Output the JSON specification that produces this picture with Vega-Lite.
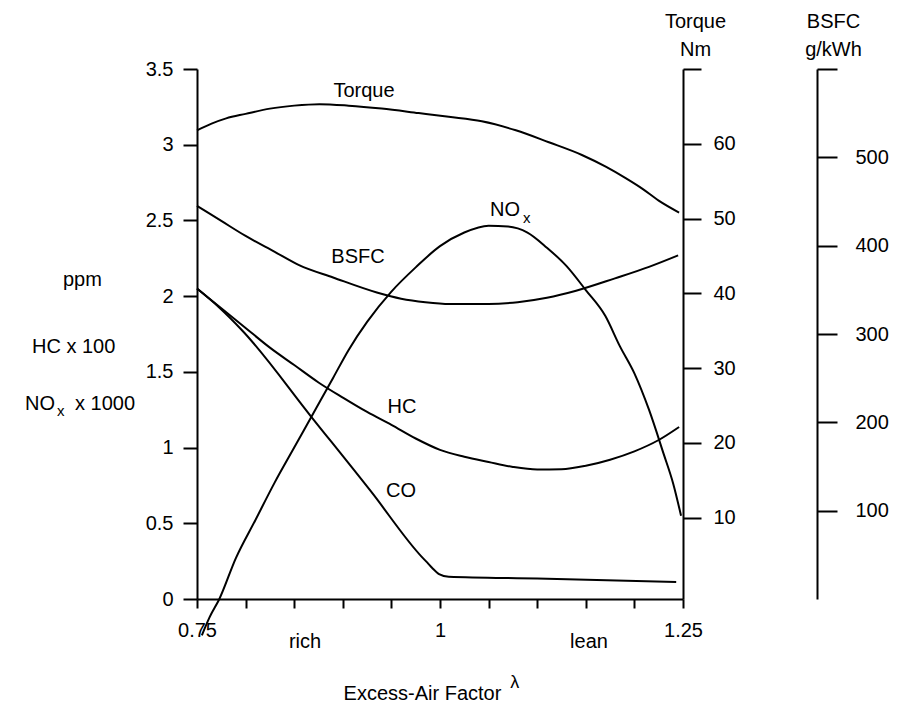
{
  "$schema": "https://vega.github.io/schema/vega-lite/v6.json",
  "width": 486,
  "height": 530,
  "autosize": {"type": "none"},
  "padding": {"left": 197, "top": 69, "right": 214, "bottom": 105},
  "background": "white",
  "config": {
    "font": "Liberation Sans",
    "view": {"stroke": null},
    "axis": {
      "grid": false,
      "domainColor": "black",
      "domainWidth": 2,
      "tickColor": "black",
      "tickWidth": 2,
      "labelColor": "black",
      "labelFont": "Liberation Sans",
      "labelFontSize": 20,
      "titleFont": "Liberation Sans",
      "titleFontSize": 20,
      "titleFontWeight": "normal",
      "titleColor": "black",
      "labelOverlap": false,
      "labelFlush": false
    },
    "text": {"font": "Liberation Sans", "color": "black"}
  },
  "datasets": {
    "emissions": [
      {"series": "HC", "lambda": 0.75, "value": 2.05},
      {"series": "HC", "lambda": 0.775, "value": 1.92},
      {"series": "HC", "lambda": 0.8, "value": 1.79},
      {"series": "HC", "lambda": 0.825, "value": 1.66},
      {"series": "HC", "lambda": 0.85, "value": 1.545},
      {"series": "HC", "lambda": 0.875, "value": 1.43},
      {"series": "HC", "lambda": 0.9, "value": 1.33},
      {"series": "HC", "lambda": 0.925, "value": 1.235},
      {"series": "HC", "lambda": 0.95, "value": 1.15},
      {"series": "HC", "lambda": 0.975, "value": 1.06},
      {"series": "HC", "lambda": 1.0, "value": 0.985},
      {"series": "HC", "lambda": 1.025, "value": 0.94},
      {"series": "HC", "lambda": 1.05, "value": 0.905},
      {"series": "HC", "lambda": 1.075, "value": 0.872},
      {"series": "HC", "lambda": 1.1, "value": 0.855},
      {"series": "HC", "lambda": 1.125, "value": 0.857},
      {"series": "HC", "lambda": 1.15, "value": 0.88},
      {"series": "HC", "lambda": 1.175, "value": 0.92},
      {"series": "HC", "lambda": 1.2, "value": 0.975},
      {"series": "HC", "lambda": 1.225, "value": 1.05},
      {"series": "HC", "lambda": 1.246, "value": 1.136},
      {"series": "CO", "lambda": 0.75, "value": 2.05},
      {"series": "CO", "lambda": 0.772, "value": 1.93},
      {"series": "CO", "lambda": 0.797, "value": 1.77},
      {"series": "CO", "lambda": 0.868, "value": 1.2},
      {"series": "CO", "lambda": 0.929, "value": 0.71},
      {"series": "CO", "lambda": 0.981, "value": 0.28},
      {"series": "CO", "lambda": 0.987, "value": 0.24},
      {"series": "CO", "lambda": 0.992, "value": 0.205},
      {"series": "CO", "lambda": 0.999, "value": 0.165},
      {"series": "CO", "lambda": 1.009, "value": 0.147},
      {"series": "CO", "lambda": 1.1, "value": 0.135},
      {"series": "CO", "lambda": 1.243, "value": 0.112},
      {"series": "NOx", "lambda": 0.755, "value": -0.24},
      {"series": "NOx", "lambda": 0.763, "value": -0.12},
      {"series": "NOx", "lambda": 0.773, "value": 0.0},
      {"series": "NOx", "lambda": 0.79, "value": 0.27},
      {"series": "NOx", "lambda": 0.81, "value": 0.52},
      {"series": "NOx", "lambda": 0.83, "value": 0.77},
      {"series": "NOx", "lambda": 0.85, "value": 1.0},
      {"series": "NOx", "lambda": 0.87, "value": 1.23},
      {"series": "NOx", "lambda": 0.89, "value": 1.46},
      {"series": "NOx", "lambda": 0.906, "value": 1.645},
      {"series": "NOx", "lambda": 0.925, "value": 1.83},
      {"series": "NOx", "lambda": 0.95, "value": 2.03},
      {"series": "NOx", "lambda": 0.975, "value": 2.19},
      {"series": "NOx", "lambda": 1.0, "value": 2.33},
      {"series": "NOx", "lambda": 1.025, "value": 2.42},
      {"series": "NOx", "lambda": 1.05, "value": 2.465},
      {"series": "NOx", "lambda": 1.07, "value": 2.46},
      {"series": "NOx", "lambda": 1.09, "value": 2.42},
      {"series": "NOx", "lambda": 1.11, "value": 2.32},
      {"series": "NOx", "lambda": 1.13, "value": 2.2},
      {"series": "NOx", "lambda": 1.15, "value": 2.04},
      {"series": "NOx", "lambda": 1.17, "value": 1.87},
      {"series": "NOx", "lambda": 1.185, "value": 1.67},
      {"series": "NOx", "lambda": 1.2, "value": 1.49},
      {"series": "NOx", "lambda": 1.215, "value": 1.25},
      {"series": "NOx", "lambda": 1.23, "value": 0.96},
      {"series": "NOx", "lambda": 1.24, "value": 0.76},
      {"series": "NOx", "lambda": 1.248, "value": 0.55}
    ],
    "torque": [
      {"lambda": 0.75, "torque": 61.8},
      {"lambda": 0.765, "torque": 62.7},
      {"lambda": 0.78, "torque": 63.4},
      {"lambda": 0.8, "torque": 64.0},
      {"lambda": 0.825, "torque": 64.7},
      {"lambda": 0.85, "torque": 65.1},
      {"lambda": 0.876, "torque": 65.3},
      {"lambda": 0.906, "torque": 65.1},
      {"lambda": 0.94, "torque": 64.7},
      {"lambda": 0.978, "torque": 64.1},
      {"lambda": 1.009, "torque": 63.6},
      {"lambda": 1.043, "torque": 63.0},
      {"lambda": 1.078, "torque": 61.8},
      {"lambda": 1.112, "torque": 60.2},
      {"lambda": 1.146, "torque": 58.5},
      {"lambda": 1.171, "torque": 56.9},
      {"lambda": 1.191, "torque": 55.4},
      {"lambda": 1.208, "torque": 54.0},
      {"lambda": 1.225, "torque": 52.4},
      {"lambda": 1.246, "torque": 50.8}
    ],
    "bsfc": [
      {"lambda": 0.75, "bsfc": 445},
      {"lambda": 0.775, "bsfc": 428},
      {"lambda": 0.8, "bsfc": 411},
      {"lambda": 0.83, "bsfc": 393},
      {"lambda": 0.855, "bsfc": 378},
      {"lambda": 0.89, "bsfc": 364},
      {"lambda": 0.935, "bsfc": 347},
      {"lambda": 0.96, "bsfc": 340},
      {"lambda": 0.985, "bsfc": 336},
      {"lambda": 1.01, "bsfc": 334},
      {"lambda": 1.05, "bsfc": 334},
      {"lambda": 1.08, "bsfc": 336},
      {"lambda": 1.11, "bsfc": 341},
      {"lambda": 1.14, "bsfc": 349},
      {"lambda": 1.18, "bsfc": 363},
      {"lambda": 1.215, "bsfc": 376},
      {"lambda": 1.245, "bsfc": 389}
    ],
    "centerLabels": [
      {"lambda": 0.9218, "value": 3.316, "label": "Torque"},
      {"lambda": 0.9156, "value": 2.219, "label": "BSFC"},
      {"lambda": 0.9609, "value": 1.229, "label": "HC"},
      {"lambda": 0.9599, "value": 0.674, "label": "CO"},
      {"lambda": 1.0669, "value": 2.53, "label": "NO"},
      {"lambda": 0.8611, "value": -0.324, "label": "rich"},
      {"lambda": 1.1533, "value": -0.324, "label": "lean"}
    ],
    "leftLabels": [
      {"lambda": 0.6121, "value": 2.067, "label": "ppm"},
      {"lambda": 0.5802, "value": 1.625, "label": "HC x 100"},
      {"lambda": 0.573, "value": 1.248, "label": "NO"},
      {"lambda": 0.6245, "value": 1.248, "label": "x 1000"}
    ],
    "subLabels": [
      {"lambda": 1.0854, "value": 2.483, "label": "x"},
      {"lambda": 0.606, "value": 1.209, "label": "x"}
    ],
    "lambdaLabel": [
      {"lambda": 1.077, "value": -0.588, "label": "λ"}
    ]
  },
  "encoding": {
    "x": {
      "field": "lambda",
      "type": "quantitative",
      "scale": {"domain": [0.75, 1.25], "nice": false, "zero": false},
      "axis": {
        "values": [0.75, 0.8, 0.85, 0.9, 0.95, 1, 1.05, 1.1, 1.15, 1.2, 1.25],
        "labelExpr": "datum.value == 0.75 ? '0.75' : (datum.value == 1 ? '1' : (datum.value == 1.25 ? '1.25' : ''))",
        "tickSize": 9,
        "labelPadding": 12,
        "title": "Excess-Air Factor",
        "titleX": 225,
        "titleY": 100,
        "titleAlign": "center",
        "titleBaseline": "alphabetic",
        "titleAnchor": null
      }
    }
  },
  "layer": [
    {
      "data": {"name": "emissions"},
      "mark": {"type": "line", "color": "black", "strokeWidth": 2, "interpolate": "monotone"},
      "encoding": {
        "y": {
          "field": "value",
          "type": "quantitative",
          "scale": {"domain": [0, 3.5], "nice": false, "zero": false},
          "axis": {
            "orient": "left",
            "values": [0, 0.5, 1, 1.5, 2, 2.5, 3, 3.5],
            "format": ".1~f",
            "tickSize": 14,
            "labelPadding": 10,
            "title": null
          }
        },
        "detail": {"field": "series", "type": "nominal"}
      }
    },
    {
      "data": {"name": "torque"},
      "mark": {"type": "line", "color": "black", "strokeWidth": 2, "interpolate": "monotone"},
      "encoding": {
        "y": {
          "field": "torque",
          "type": "quantitative",
          "scale": {"domain": [-0.9, 70], "nice": false, "zero": false},
          "axis": {
            "orient": "right",
            "values": [10, 20, 30, 40, 50, 60, 70],
            "labelExpr": "datum.value == 70 ? '' : datum.label",
            "tickSize": 18,
            "labelPadding": 12,
            "title": ["Torque", "Nm"],
            "titleAngle": 0,
            "titleX": 12,
            "titleY": -58,
            "titleAlign": "center",
            "titleBaseline": "top",
            "titleLineHeight": 28,
            "titleAnchor": null
          }
        }
      }
    },
    {
      "data": {"name": "bsfc"},
      "mark": {"type": "line", "color": "black", "strokeWidth": 2, "interpolate": "monotone"},
      "encoding": {
        "y": {
          "field": "bsfc",
          "type": "quantitative",
          "scale": {"domain": [0, 600], "nice": false, "zero": false},
          "axis": {
            "orient": "right",
            "offset": 134,
            "values": [100, 200, 300, 400, 500, 600],
            "labelExpr": "datum.value == 600 ? '' : datum.label",
            "tickSize": 20,
            "labelPadding": 18,
            "title": ["BSFC", "g/kWh"],
            "titleAngle": 0,
            "titleX": 16,
            "titleY": -58,
            "titleAlign": "center",
            "titleBaseline": "top",
            "titleLineHeight": 28,
            "titleAnchor": null
          }
        }
      }
    },
    {
      "data": {"name": "centerLabels"},
      "mark": {"type": "text", "fontSize": 20, "align": "center", "baseline": "alphabetic"},
      "encoding": {
        "y": {"field": "value", "type": "quantitative", "scale": {"domain": [0, 3.5], "nice": false, "zero": false}, "axis": null},
        "text": {"field": "label"}
      }
    },
    {
      "data": {"name": "leftLabels"},
      "mark": {"type": "text", "fontSize": 20, "align": "left", "baseline": "alphabetic"},
      "encoding": {
        "y": {"field": "value", "type": "quantitative", "scale": {"domain": [0, 3.5], "nice": false, "zero": false}, "axis": null},
        "text": {"field": "label"}
      }
    },
    {
      "data": {"name": "subLabels"},
      "mark": {"type": "text", "fontSize": 15, "align": "left", "baseline": "alphabetic"},
      "encoding": {
        "y": {"field": "value", "type": "quantitative", "scale": {"domain": [0, 3.5], "nice": false, "zero": false}, "axis": null},
        "text": {"field": "label"}
      }
    },
    {
      "data": {"name": "lambdaLabel"},
      "mark": {"type": "text", "fontSize": 18, "align": "center", "baseline": "alphabetic"},
      "encoding": {
        "y": {"field": "value", "type": "quantitative", "scale": {"domain": [0, 3.5], "nice": false, "zero": false}, "axis": null},
        "text": {"field": "label"}
      }
    }
  ],
  "resolve": {"scale": {"y": "independent"}, "axis": {"y": "independent"}}
}
